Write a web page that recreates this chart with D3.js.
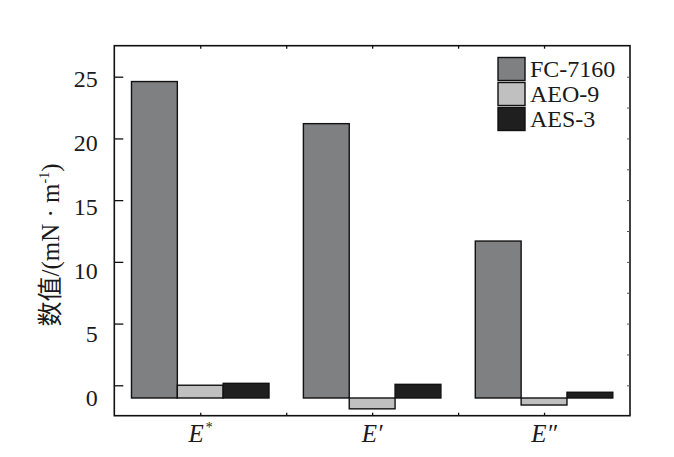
<!DOCTYPE html>
<html>
<head>
<meta charset="utf-8">
<script src="https://cdn.jsdelivr.net/npm/d3@7"></script>
<style>
  body { margin: 0; background: #fff; }
  text { font-family: "Liberation Serif", "Noto Sans CJK SC", serif; fill: #1a1a1a; }
</style>
</head>
<body>
<div id="chart"></div>
<script>
// data
let groups = ["E*", "E'", "E''"];
let series = ["FC-7160", "AEO-9", "AES-3"];
let fc7160 = [24.8, 21.5, 12.3];
let aeo9 = [1.0, -0.85, -0.55];
let aes3 = [1.15, 1.07, 0.45];
let yTicks = [0, 5, 10, 15, 20, 25];
let colors = ["#7f8082", "#c0c0c0", "#1f1f1f"];

let rows = [];
groups.forEach(function(g, i) {
  rows.push({ g: g, s: "FC-7160", v: fc7160[i] });
  rows.push({ g: g, s: "AEO-9", v: aeo9[i] });
  rows.push({ g: g, s: "AES-3", v: aes3[i] });
});

let W = 674, H = 457;
let pLeft = 114.3, pRight = 630, pTop = 45.7, pBottom = 415.7;

let svg = d3.select("#chart").append("svg")
  .attr("width", W).attr("height", H);

// scales
let x0 = d3.scaleBand().domain(groups).range([pLeft, pRight])
  .paddingInner(0.2).paddingOuter(0.1);
let x1 = d3.scaleBand().domain(series).range([0, x0.bandwidth()]);
let color = d3.scaleOrdinal().domain(series).range(colors);
let xTick = d3.scaleLinear().domain([0, 6]).range([pLeft, pRight]);

// tick marks and labels don't line up in the original, so two scales
let yTick = d3.scaleLinear().domain([0, 25]).range([385.3, 76.7]);
let yLab = d3.scaleLinear().domain([0, 25]).range([398, 79]);

// bars
svg.append("g").selectAll("rect")
  .data(rows)
  .enter().append("rect")
  .attr("x", function(d) { return x0(d.g) + x1(d.s); })
  .attr("y", function(d) { return Math.min(yLab(d.v), yLab(0)); })
  .attr("width", x1.bandwidth())
  .attr("height", function(d) { return Math.abs(yLab(d.v) - yLab(0)); })
  .attr("fill", function(d) { return color(d.s); })
  .attr("stroke", "#111")
  .attr("stroke-width", 1.4);

// frame
svg.append("rect")
  .attr("x", pLeft).attr("y", pTop)
  .attr("width", pRight - pLeft).attr("height", pBottom - pTop)
  .attr("fill", "none").attr("stroke", "#111").attr("stroke-width", 1.6);

function cleanAxis(g) {
  g.select(".domain").remove();
  g.selectAll("line").attr("stroke", "#111").attr("stroke-width", 1.3);
}

// left ticks (inward)
svg.append("g").attr("transform", "translate(" + pLeft + ",0)")
  .call(d3.axisLeft(yTick).tickValues(yTicks).tickSize(-9).tickFormat(""))
  .call(cleanAxis);

// left labels
svg.append("g").attr("transform", "translate(" + pLeft + ",0)")
  .call(d3.axisLeft(yLab).tickValues(yTicks).tickSize(0).tickPadding(16.5))
  .call(cleanAxis)
  .selectAll("text")
  .style("font-family", "'Liberation Serif', serif")
  .style("font-size", "24px")
  .attr("fill", "#1a1a1a");

// right minor ticks, faint in the original
svg.append("g").attr("transform", "translate(" + pRight + ",0)")
  .call(d3.axisRight(yTick).tickValues(d3.range(0, 27.5, 2.5)).tickSize(-3).tickFormat(""))
  .call(cleanAxis)
  .selectAll("line").attr("stroke", "#555").attr("stroke-width", 1);

// top and bottom ticks
svg.append("g").attr("transform", "translate(0," + pBottom + ")")
  .call(d3.axisBottom(xTick).tickValues([1, 2, 3, 4, 5]).tickSize(-3).tickFormat(""))
  .call(cleanAxis);
svg.append("g").attr("transform", "translate(0," + pTop + ")")
  .call(d3.axisTop(xTick).tickValues([1, 2, 3, 4, 5]).tickSize(-3).tickFormat(""))
  .call(cleanAxis);

// x labels
let xl = svg.append("g").selectAll("text")
  .data(groups)
  .enter().append("text")
  .attr("x", function(d) { return x0(d) + x0.bandwidth() / 2; })
  .attr("y", 442)
  .attr("text-anchor", "middle")
  .style("font-size", "25px")
  .style("font-style", "italic");
xl.append("tspan").text("E");
xl.append("tspan")
  .text(function(d) { return d == "E*" ? "*" : (d == "E'" ? "\u2032" : "\u2033"); })
  .style("font-size", function(d) { return d == "E*" ? "14px" : "25px"; })
  .attr("dy", function(d) { return d == "E*" ? "-10" : "0"; })
  .attr("dx", function(d) { return d == "E*" ? "1" : "0"; });

// y title
let yt = svg.append("text")
  .attr("transform", "translate(59,245) rotate(-90)")
  .attr("text-anchor", "middle")
  .style("font-size", "25px");
yt.append("tspan").text("数值/(mN · m");
yt.append("tspan").text("-1").style("font-size", "14px").attr("dy", "-10");
yt.append("tspan").text(")").attr("dy", "10");

// legend
let leg = svg.append("g").selectAll("g")
  .data(series)
  .enter().append("g")
  .attr("transform", function(d, i) { return "translate(498," + (57.5 + i * 25) + ")"; });
leg.append("rect")
  .attr("width", 27).attr("height", 23)
  .attr("fill", function(d) { return color(d); })
  .attr("stroke", "#111").attr("stroke-width", 1.4);
leg.append("text")
  .attr("x", 32).attr("y", 19.5)
  .style("font-size", "24px")
  .text(function(d) { return d; });
</script>
</body>
</html>
